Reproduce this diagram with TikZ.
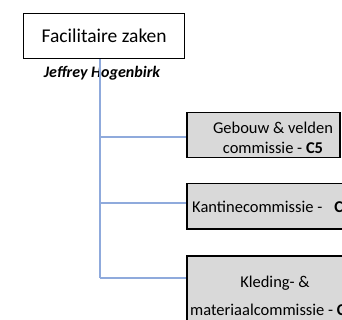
\documentclass[tikz,border=0pt]{standalone}
\usepackage{fontspec}
\setmainfont{Carlito}
\definecolor{linkblue}{RGB}{143,170,220}
\definecolor{boxgray}{RGB}{217,217,217}
\begin{document}
\begin{tikzpicture}[x=1pt,y=-1pt,
  topbox/.style={draw=black, line width=1.3pt, fill=white},
  combox/.style={draw=black, line width=1.5pt, fill=boxgray},
  link/.style={draw=linkblue, line width=1.2pt},
  lbl/.style={inner sep=0pt, font=\fontsize{16.5}{20}\selectfont, align=center}]
\useasboundingbox (0,0) rectangle (342,320);
\clip (0,0) rectangle (342,320);
% top box
\node[topbox, minimum width=161pt, minimum height=45pt, inner sep=0pt, anchor=north west,
  font=\fontsize{19.5}{22}\selectfont] (top) at (23,13) {Facilitaire zaken};
\node[inner sep=0pt, font=\fontsize{16}{18}\selectfont\bfseries\itshape] (name) at (102,73) {Jeffrey Hogenbirk};
% commission boxes
\node[combox, minimum width=153pt, minimum height=45pt, anchor=north west, inner sep=0pt] (c1) at (186,112) {};
\node[combox, minimum width=184pt, minimum height=45pt, anchor=north west, inner sep=0pt] (c2) at (186,183) {};
\node[combox, minimum width=184pt, minimum height=85pt, anchor=north west, inner sep=0pt] (c3) at (186,255) {};
% labels
\node[lbl] (t1) at (273,138) {Gebouw \& velden\\commissie - \textbf{C5}};
\node[lbl, anchor=west] (t2) at (192,207) {Kantinecommissie -\hspace{12pt}\textbf{C}};
\node[lbl] (t3a) at (275,283) {Kleding- \&};
\node[lbl, anchor=west] (t3b) at (190,310) {materiaalcommissie - \textbf{C}};
% connectors
\coordinate (j1) at (100,137);
\coordinate (j2) at (100,203);
\coordinate (j3) at (100,278);
\draw[link] (top.south -| j3) -- (j3);
\draw[link] (j1) -- (j1 -| c1.west);
\draw[link] (j2) -- (j2 -| c2.west);
\draw[link] (j3) -- (j3 -| c3.west);
\end{tikzpicture}
\end{document}
